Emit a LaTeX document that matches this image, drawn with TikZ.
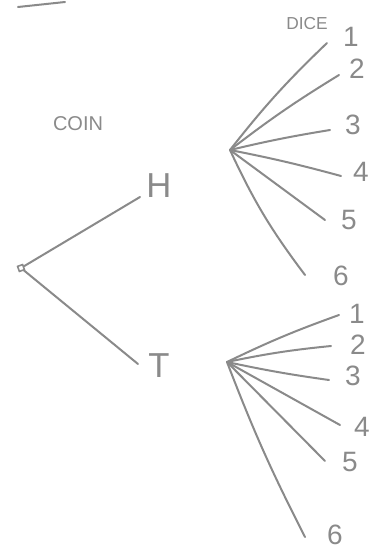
\documentclass[tikz,border=0pt]{standalone}
\usepackage{fontspec}
\setmainfont{Liberation Sans}
\definecolor{pencil}{HTML}{8A8A8A}
\begin{document}
\begin{tikzpicture}[x=0.75pt,y=-0.75pt,
  branch/.style={draw=pencil,line width=1.5pt,line cap=round},
  lbl/.style={text=pencil,inner sep=0pt,font=\fontsize{21}{21}\selectfont},
  big/.style={text=pencil,inner sep=0pt,font=\fontsize{26}{26}\selectfont},
  head/.style={text=pencil,inner sep=0pt,font=\fontsize{15}{15}\selectfont}]
\useasboundingbox (0,0) rectangle (379,553);
% stray stroke at top
\coordinate (s1) at (18,7);
\coordinate (s2) at (65,2);
\draw[branch] (s1) -- (s2);
% headings
\node[head] (coin) at (78,124) {COIN};
\node[head,font=\fontsize{13}{13}\selectfont] (dice) at (307,24) {DICE};
% root
\node[draw=pencil,line width=1.2pt,inner sep=0pt,minimum size=4pt,rotate=20] (root) at (21,268) {};
% coin outcomes
\coordinate (eH) at (140,197);
\coordinate (eT) at (138,364);
\node[big] (H) at (159,186) {H};
\node[big] (T) at (159,366) {T};
\draw[branch] (root) -- (eH);
\draw[branch] (root) -- (eT);
% dice hubs
\coordinate (hH) at (230,150);
\coordinate (hT) at (227,362);
% H dice branches
\coordinate (a1) at (327,43);
\coordinate (a2) at (339,75);
\coordinate (a3) at (330,130);
\coordinate (a4) at (341,176);
\coordinate (a5) at (325,220);
\coordinate (a6) at (305,275);
\draw[branch] (hH) to[bend left=4] (a1);
\draw[branch] (hH) to[bend left=3] (a2);
\draw[branch] (hH) to[bend left=2] (a3);
\draw[branch] (hH) to[bend left=2] (a4);
\draw[branch] (hH) to (a5);
\draw[branch] (hH) to[bend right=6] (a6);
\node[lbl] (n1) at (351,37) {1};
\node[lbl] (n2) at (357,69) {2};
\node[lbl] (n3) at (353,125) {3};
\node[lbl] (n4) at (361,172) {4};
\node[lbl] (n5) at (349,220) {5};
\node[lbl] (n6) at (341,276) {6};
% T dice branches
\coordinate (b1) at (339,315);
\coordinate (b2) at (331,346);
\coordinate (b3) at (329,380);
\coordinate (b4) at (340,425);
\coordinate (b5) at (325,461);
\coordinate (b6) at (305,537);
\draw[branch] (hT) to[bend left=3] (b1);
\draw[branch] (hT) to[bend left=3] (b2);
\draw[branch] (hT) to[bend right=2] (b3);
\draw[branch] (hT) to (b4);
\draw[branch] (hT) to (b5);
\draw[branch] (hT) to[bend right=3] (b6);
\node[lbl] (m1) at (357,314) {1};
\node[lbl] (m2) at (358,345) {2};
\node[lbl] (m3) at (353,376) {3};
\node[lbl] (m4) at (362,427) {4};
\node[lbl] (m5) at (350,462) {5};
\node[lbl] (m6) at (335,535) {6};
\end{tikzpicture}
\end{document}
